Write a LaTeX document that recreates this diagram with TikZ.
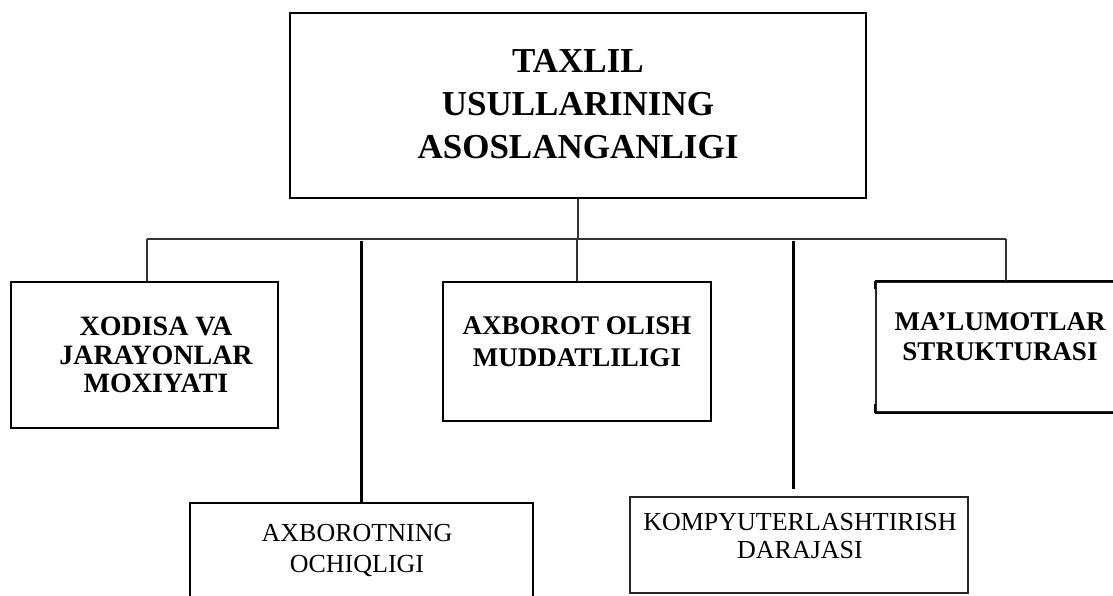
\documentclass[tikz,border=0pt]{standalone}
\usepackage{fontspec}
\setmainfont{Liberation Serif}
\begin{document}
\begin{tikzpicture}[x=1pt,y=-1pt,
  box/.style={draw, line width=2pt, inner sep=0pt},
  lightbox/.style={draw=black!85, line width=1.1pt, inner sep=0pt},
  boldtext/.style={align=center, inner sep=0pt, font={\fontsize{27}{31}\selectfont\bfseries}},
  plaintext/.style={align=center, inner sep=0pt, font={\fontsize{26}{30}\selectfont}},
  thinline/.style={line width=1.1pt, draw=black!80},
  heavyline/.style={line width=3pt, draw=black}]
\useasboundingbox (0,0) rectangle (1113,595);
\clip (0,0) rectangle (1113,595);

% boxes
\node[box, minimum width=576pt, minimum height=185pt] (top) at (578,105.5) {};
\node[box, minimum width=267pt, minimum height=146pt] (box1) at (144.5,355) {};
\node[box, minimum width=268pt, minimum height=139pt] (box3) at (577,351.5) {};
\node[lightbox, minimum width=260pt, minimum height=130pt] (box6) at (1006,347) {};
\node[box, minimum width=343pt, minimum height=97pt] (box4) at (361.5,551.5) {};
\node[lightbox, minimum width=338pt, minimum height=96pt] (box5) at (799,545) {};

% heavier top/bottom of the right box
\draw[line width=2pt] (box6.north west) -- (box6.north east);
\draw[line width=2pt] (box6.south west) -- (box6.south east);
\draw[line width=2pt] (box6.north west) -- ++(0,8);
\draw[line width=2pt] (box6.south west) -- ++(0,-9);

% texts
\node[boldtext, font={\fontsize{35}{43}\selectfont\bfseries}] (toptext) at (578,104)
  {TAXLIL\\USULLARINING\\ASOSLANGANLIGI};
\node[boldtext, font={\fontsize{28}{28.5}\selectfont\bfseries}] (box1text) at (156,355)
  {XODISA VA\\JARAYONLAR\\MOXIYATI};
\node[boldtext, font={\fontsize{27}{32}\selectfont\bfseries}] (box3text) at (577,342)
  {AXBOROT OLISH\\MUDDATLILIGI};
\node[boldtext, font={\fontsize{27}{30}\selectfont\bfseries}] (box6text) at (1000,337)
  {MA’LUMOTLAR\\STRUKTURASI};
\node[plaintext, font={\fontsize{26}{31}\selectfont}] (box4text) at (357,550)
  {AXBOROTNING\\OCHIQLIGI};
\node[plaintext, font={\fontsize{26}{28}\selectfont}] (box5text) at (800,536)
  {KOMPYUTERLASHTIRISH\\DARAJASI};

% connectors
\coordinate (hl) at (147,239);
\coordinate (hr) at (1006,239);
\coordinate (t4) at (361,241);
\coordinate (t5) at (793,241);
\coordinate (e5) at (793,489);

\draw[thinline] (hl) -- (hr);
\draw[thinline] (top.south) -- (top.south |- hl);
\draw[thinline] (hl) -- (hl |- box1.north);
\draw[thinline] (box3.north |- hl) -- (box3.north);
\draw[thinline] (hr) -- (hr |- box6.north);
\draw[heavyline] (t4) -- (t4 |- box4.north);
\draw[heavyline] (t5) -- (e5);
\end{tikzpicture}
\end{document}
